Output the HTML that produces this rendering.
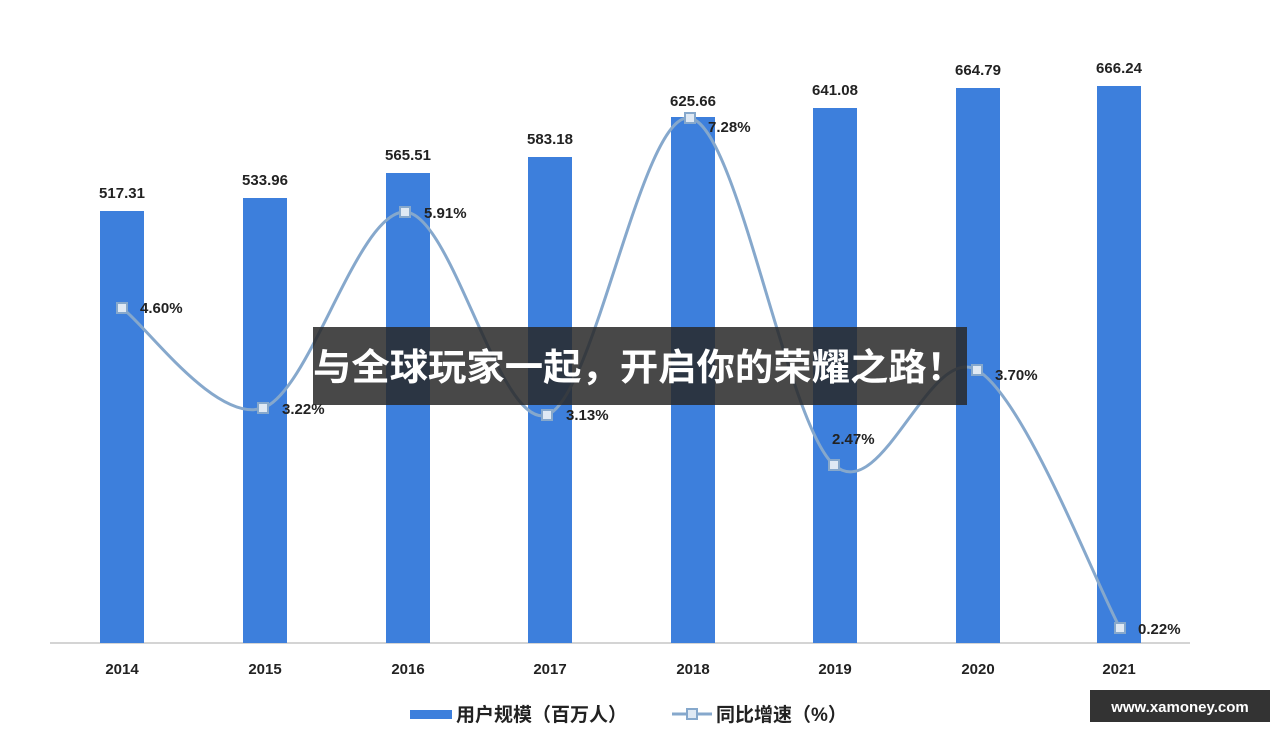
<!DOCTYPE html>
<html><head><meta charset="utf-8"><style>
body{margin:0;width:1280px;height:732px;background:#fff;overflow:hidden;font-family:"Liberation Sans","Noto Sans CJK SC",sans-serif}
</style></head><body>
<svg width="1280" height="732" style="position:absolute;left:0;top:0" font-family="Liberation Sans, Noto Sans CJK SC, sans-serif">
<line x1="50" y1="643" x2="1190" y2="643" stroke="#d4d4d4" stroke-width="2"/>
<g fill="#3d7fdc">
<rect x="100" y="211" width="44" height="432"/>
<rect x="243" y="198" width="44" height="445"/>
<rect x="386" y="173" width="44" height="470"/>
<rect x="528" y="157" width="44" height="486"/>
<rect x="671" y="117" width="44" height="526"/>
<rect x="813" y="108" width="44" height="535"/>
<rect x="956" y="88" width="44" height="555"/>
<rect x="1097" y="86" width="44" height="557"/>
</g>
<g font-size="15" font-weight="bold" fill="#222" text-anchor="middle">
<text x="122" y="198">517.31</text><text x="265" y="185">533.96</text><text x="408" y="160">565.51</text><text x="550" y="144">583.18</text>
<text x="693" y="106">625.66</text><text x="835" y="95">641.08</text><text x="978" y="75">664.79</text><text x="1119" y="73">666.24</text>
</g>
<path d="M122,308 C145.5,324.7 215.8,424 263,408 C310.2,392 357.7,210.8 405,212 C452.3,213.2 499.5,430.7 547,415 C594.5,399.3 642.2,109.7 690,118 C737.8,126.3 786.2,423 834,465 C881.8,507 929.3,342.8 977,370 C1024.7,397.2 1096.2,585 1120,628" fill="none" stroke="#86a8cc" stroke-width="3"/>
<g fill="#dfe9f4" stroke="#86a8cc" stroke-width="2">
<rect x="117" y="303" width="10" height="10"/><rect x="258" y="403" width="10" height="10"/><rect x="400" y="207" width="10" height="10"/><rect x="542" y="410" width="10" height="10"/>
<rect x="685" y="113" width="10" height="10"/><rect x="829" y="460" width="10" height="10"/><rect x="972" y="365" width="10" height="10"/><rect x="1115" y="623" width="10" height="10"/>
</g>
<g font-size="15" font-weight="bold" fill="#222">
<text x="140" y="313">4.60%</text><text x="282" y="414">3.22%</text><text x="424" y="218">5.91%</text><text x="566" y="420">3.13%</text>
<text x="708" y="132">7.28%</text><text x="832" y="444">2.47%</text><text x="995" y="380">3.70%</text><text x="1138" y="634">0.22%</text>
</g>
<g font-size="15" font-weight="bold" fill="#222" text-anchor="middle">
<text x="122" y="674">2014</text><text x="265" y="674">2015</text><text x="408" y="674">2016</text><text x="550" y="674">2017</text>
<text x="693" y="674">2018</text><text x="835" y="674">2019</text><text x="978" y="674">2020</text><text x="1119" y="674">2021</text>
</g>
<rect x="410" y="710" width="42" height="9" fill="#3d7fdc"/>
<text x="456" y="721" font-size="19" font-weight="bold" fill="#222">用户规模（百万人）</text>
<line x1="672" y1="714" x2="712" y2="714" stroke="#86a8cc" stroke-width="3"/>
<rect x="687" y="709" width="10" height="10" fill="#dfe9f4" stroke="#86a8cc" stroke-width="2"/>
<text x="716" y="721" font-size="19" font-weight="bold" fill="#222">同比增速（%）</text>
<rect x="313" y="327" width="654" height="78" fill="rgba(40,40,40,0.85)"/>
<text x="313" y="380" font-size="37" font-weight="bold" fill="#fff" textLength="652" lengthAdjust="spacingAndGlyphs">与全球玩家一起，开启你的荣耀之路！</text>
<rect x="1090" y="690" width="180" height="32" fill="#333"/>
<text x="1180" y="712" font-size="15" font-weight="bold" fill="#fff" text-anchor="middle">www.xamoney.com</text>
</svg>
</body></html>
